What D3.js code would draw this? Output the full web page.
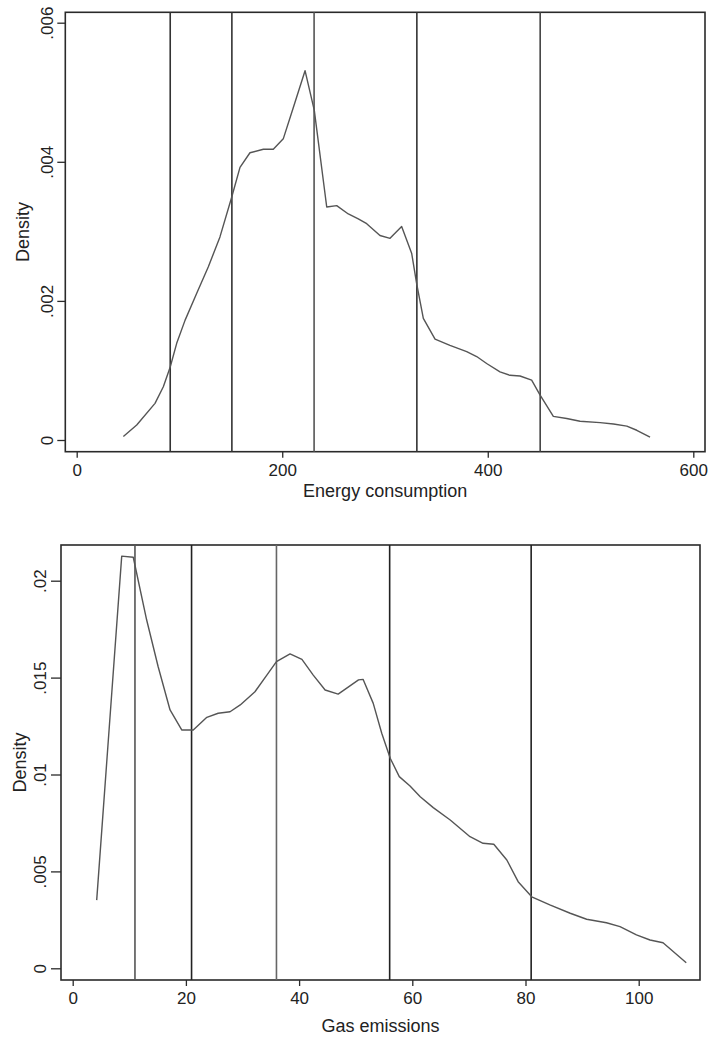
<!DOCTYPE html>
<html>
<head>
<meta charset="utf-8">
<script src="https://d3js.org/d3.v7.min.js"></script>
<style>
  html, body { margin: 0; padding: 0; background: #fff; }
  svg { display: block; font-family: "Liberation Sans", Arial, sans-serif; }
</style>
</head>
<body>
<svg id="chart" width="712" height="1039"></svg>
<script>
// ---------- Data: panel 1 (Energy consumption) ----------
const energyX = [45.4, 58.4, 76.2, 84.3, 91, 97.3, 105.4, 116.8, 128.1, 139.4, 150.8, 158.9, 168.6, 181.6, 191.3, 201, 210.8, 222.2, 231.2, 243.3, 253, 264.3, 274, 282.2, 295.1, 304.9, 316.2, 326, 330.8, 337.3, 348.7, 363.2, 379.5, 389.2, 398.9, 411.9, 421.6, 431.4, 442.7, 450.8, 463.8, 476.8, 489.8, 509.3, 522.3, 535.3, 545, 557.9];
const energyDensity = [0.00005, 0.000215, 0.000527, 0.000766, 0.00105, 0.00139, 0.00172, 0.00211, 0.00249, 0.00292, 0.00349, 0.00392, 0.00413, 0.00418, 0.00418, 0.00433, 0.00478, 0.00531, 0.00474, 0.00335, 0.00337, 0.00325, 0.00318, 0.00311, 0.00294, 0.0029, 0.00307, 0.00268, 0.00225, 0.00175, 0.00145, 0.00136, 0.00127, 0.0012, 0.0011, 0.00098, 0.00093, 0.00092, 0.00086, 0.00065, 0.00034, 0.00031, 0.00027, 0.00025, 0.00023, 0.0002, 0.00014, 0.00004];
const energyCuts = [91, 151, 231, 331, 451];
const energyXTicks = [0, 200, 400, 600];
const energyYTicks = [0, 0.002, 0.004, 0.006];
const energyYTickLabels = ["0", ".002", ".004", ".006"];

// ---------- Data: panel 2 (Gas emissions) ----------
const gasX = [4.24, 8.66, 10.7, 13.07, 15.1, 17.2, 19.26, 21.3, 23.7, 25.7, 27.8, 29.6, 32.2, 34.3, 36.0, 38.4, 40.5, 42.5, 44.6, 46.9, 50.5, 51.3, 53.1, 54.6, 56.1, 57.7, 59.6, 61.4, 63.7, 66.7, 70.2, 72.5, 74.4, 76.7, 78.7, 81.1, 84.3, 87.9, 90.8, 94.3, 96.7, 99.6, 102, 104.3, 108.4];
const gasDensity = [0.00352, 0.02127, 0.02121, 0.01797, 0.01556, 0.01333, 0.0123, 0.0123, 0.01295, 0.01316, 0.01324, 0.01359, 0.01427, 0.01513, 0.01582, 0.01622, 0.01594, 0.01513, 0.01436, 0.01415, 0.01488, 0.01491, 0.01367, 0.01213, 0.01084, 0.00989, 0.00941, 0.00885, 0.00829, 0.00765, 0.00679, 0.00645, 0.0064, 0.00559, 0.00447, 0.00369, 0.00327, 0.00284, 0.00253, 0.00235, 0.00215, 0.00172, 0.00146, 0.00132, 0.00029];
const gasCuts = [11, 21, 36, 56, 81];
const gasXTicks = [0, 20, 40, 60, 80, 100];
const gasYTicks = [0, 0.005, 0.01, 0.015, 0.02];
const gasYTickLabels = ["0", ".005", ".01", ".015", ".02"];

const svg = d3.select("#chart");

function panel(cfg) {
  const g = svg.append("g");
  const x = d3.scaleLinear().domain(cfg.xDom).range(cfg.xRange);
  const y = d3.scaleLinear().domain(cfg.yDom).range(cfg.yRange);
  const f = cfg.frame; // {l, r, t, b}

  // frame
  g.append("rect")
    .attr("x", f.l).attr("y", f.t)
    .attr("width", f.r - f.l).attr("height", f.b - f.t)
    .attr("fill", "none").attr("stroke", "#2a2a2a").attr("stroke-width", 1.6);

  // x axis ticks
  const xAxis = d3.axisBottom(x).tickValues(cfg.xTicks).tickSize(6).tickSizeOuter(0).tickPadding(6)
    .tickFormat(d3.format("d"));
  const xa = g.append("g").attr("transform", `translate(0,${f.b})`).call(xAxis);
  xa.select(".domain").remove();
  xa.selectAll(".tick line").attr("stroke", "#2a2a2a").attr("stroke-width", 1.3);
  xa.selectAll(".tick text").attr("font-size", 17).attr("fill", "#222")
    .attr("font-family", "Liberation Sans, Arial, sans-serif");

  // y axis ticks
  const yAxis = d3.axisLeft(y).tickValues(cfg.yTicks).tickSize(cfg.yTickLen).tickSizeOuter(0).tickPadding(0)
    .tickFormat((d, i) => cfg.yTickLabels[i]);
  const ya = g.append("g").attr("transform", `translate(${f.l},0)`).call(yAxis);
  ya.select(".domain").remove();
  ya.selectAll(".tick line").attr("stroke", "#2a2a2a").attr("stroke-width", 1.3);
  ya.selectAll(".tick text")
    .attr("font-size", 17).attr("fill", "#222")
    .attr("font-family", "Liberation Sans, Arial, sans-serif")
    .attr("x", 0).attr("dy", null).attr("y", 0)
    .attr("text-anchor", "middle")
    .attr("transform", `translate(${cfg.yLabelBase - f.l},0) rotate(-90)`);

  // vertical cut lines
  g.selectAll("line.cut").data(cfg.cuts).enter().append("line")
    .attr("class", "cut")
    .attr("x1", d => x(d)).attr("x2", d => x(d))
    .attr("y1", f.t).attr("y2", f.b)
    .attr("stroke", (d, i) => cfg.cutColors[i]).attr("stroke-width", 1.6);

  // density curve
  const pts = cfg.xs.map((v, i) => [v, cfg.ys[i]]);
  g.append("path").datum(pts)
    .attr("fill", "none").attr("stroke", "#555").attr("stroke-width", 1.4)
    .attr("stroke-linejoin", "round")
    .attr("d", d3.line().x(d => x(d[0])).y(d => y(d[1])));

  // axis titles
  g.append("text")
    .attr("x", (f.l + f.r) / 2).attr("y", cfg.xTitleY)
    .attr("text-anchor", "middle").attr("font-size", 18).attr("fill", "#222")
    .text(cfg.xTitle);
  g.append("text")
    .attr("transform", `translate(${cfg.yTitleX},${(f.t + f.b) / 2}) rotate(-90)`)
    .attr("text-anchor", "middle").attr("font-size", 18).attr("fill", "#222")
    .text("Density");
}

panel({
  xs: energyX, ys: energyDensity, cuts: energyCuts,
  cutColors: ["#333", "#333", "#555", "#333", "#444"],
  xTicks: energyXTicks, yTicks: energyYTicks, yTickLabels: energyYTickLabels,
  xDom: [0, 600], xRange: [76.7, 693.3],
  yDom: [0, 0.006], yRange: [440, 22.7],
  frame: { l: 65.3, r: 705, t: 12.3, b: 451.7 },
  yTickLen: 8, yLabelBase: 53,
  xTitle: "Energy consumption", xTitleY: 497, yTitleX: 29
});

panel({
  xs: gasX, ys: gasDensity, cuts: gasCuts,
  cutColors: ["#555", "#222", "#666", "#222", "#222"],
  xTicks: gasXTicks, yTicks: gasYTicks, yTickLabels: gasYTickLabels,
  xDom: [0, 100], xRange: [72.7, 638.7],
  yDom: [0, 0.02], yRange: [968.3, 580.7],
  frame: { l: 61, r: 700, t: 545, b: 980 },
  yTickLen: 10, yLabelBase: 46,
  xTitle: "Gas emissions", xTitleY: 1032, yTitleX: 26
});
</script>
</body>
</html>
